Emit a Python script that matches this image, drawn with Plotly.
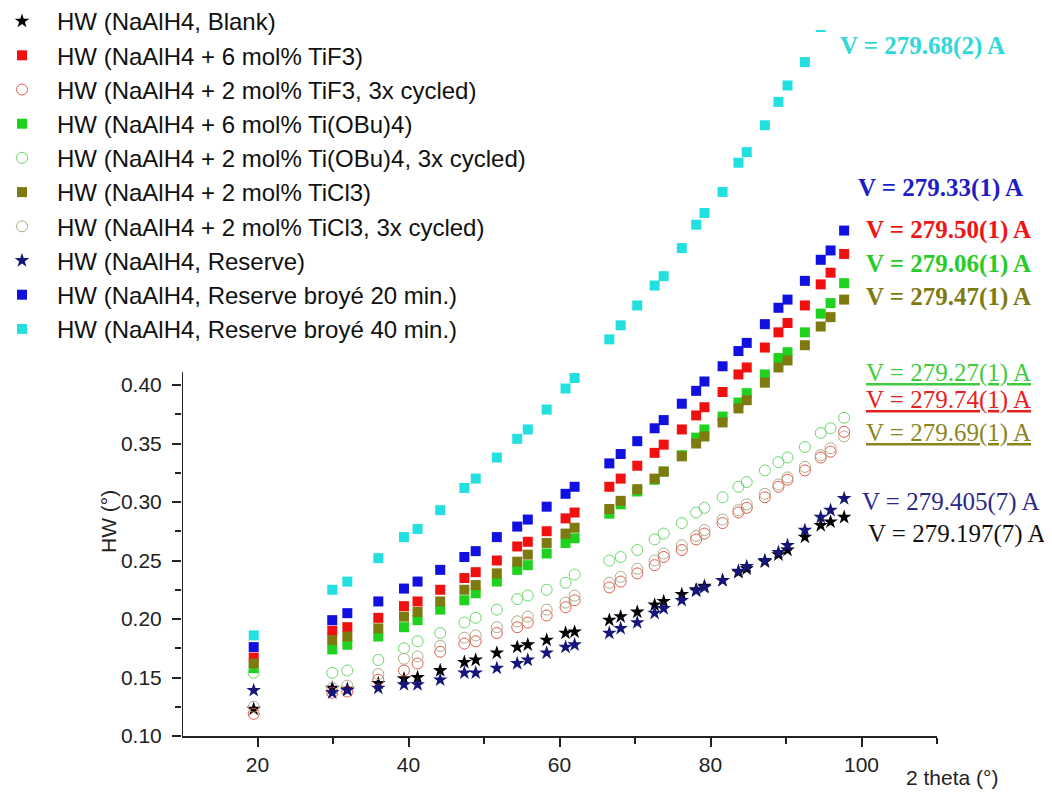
import plotly.graph_objects as go

# 2-theta positions of the reflections (deg)
two_theta = [19.5, 29.9, 31.9, 36.0, 39.4, 41.2, 44.2, 47.4, 48.9, 51.7, 54.4, 55.8,
             58.3, 60.8, 62.0, 66.6, 68.1, 70.3, 72.6, 73.8, 76.2, 78.1, 79.2, 81.6,
             83.7, 84.8, 87.2, 89.0, 90.2, 92.5, 94.6, 95.9, 97.7]

hw_blank = [0.123, 0.141, 0.140, 0.145, 0.149, 0.150, 0.156, 0.163, 0.165, 0.171, 0.176, 0.178,
            0.182, 0.188, 0.189, 0.199, 0.202, 0.206, 0.212, 0.215, 0.221, 0.225, 0.228, 0.233,
            0.240, 0.243, 0.249, 0.255, 0.259, 0.270, 0.280, 0.283, 0.287]
hw_tif3_6 = [0.167, 0.190, 0.193, 0.201, 0.211, 0.215, 0.225, 0.235, 0.240, 0.250, 0.262, 0.266,
             0.275, 0.286, 0.291, 0.313, 0.320, 0.331, 0.342, 0.349, 0.362, 0.374, 0.381, 0.394,
             0.409, 0.415, 0.432, 0.445, 0.453, 0.468, 0.486, 0.496, 0.512]
hw_tif3_2c = [0.119, 0.137, 0.138, 0.148, 0.156, 0.162, 0.172, 0.179, 0.181, 0.188, 0.193, 0.197,
              0.203, 0.210, 0.216, 0.227, 0.232, 0.239, 0.246, 0.253, 0.259, 0.268, 0.273, 0.282,
              0.291, 0.295, 0.304, 0.313, 0.319, 0.327, 0.338, 0.343, 0.360]
hw_tiobu_6 = [0.158, 0.174, 0.178, 0.185, 0.193, 0.199, 0.208, 0.216, 0.222, 0.232, 0.242, 0.246,
              0.256, 0.265, 0.269, 0.290, 0.298, 0.309, 0.319, 0.326, 0.340, 0.355, 0.362, 0.373,
              0.385, 0.393, 0.409, 0.423, 0.428, 0.445, 0.461, 0.470, 0.487]
hw_tiobu_2c = [0.154, 0.154, 0.156, 0.165, 0.175, 0.181, 0.188, 0.197, 0.201, 0.208, 0.217, 0.220,
               0.225, 0.231, 0.238, 0.250, 0.253, 0.259, 0.268, 0.273, 0.282, 0.291, 0.295, 0.304,
               0.313, 0.317, 0.327, 0.334, 0.338, 0.347, 0.359, 0.363, 0.372]
hw_ticl3_2 = [0.162, 0.182, 0.185, 0.192, 0.202, 0.206, 0.215, 0.225, 0.229, 0.239, 0.249, 0.255,
              0.265, 0.273, 0.278, 0.294, 0.301, 0.311, 0.320, 0.326, 0.339, 0.350, 0.356, 0.368,
              0.380, 0.387, 0.402, 0.415, 0.421, 0.434, 0.450, 0.458, 0.473]
hw_ticl3_2c = [0.125, 0.141, 0.143, 0.153, 0.166, 0.168, 0.177, 0.184, 0.186, 0.193, 0.198, 0.202,
               0.208, 0.214, 0.220, 0.231, 0.236, 0.243, 0.250, 0.256, 0.263, 0.271, 0.276, 0.285,
               0.293, 0.298, 0.307, 0.315, 0.321, 0.330, 0.340, 0.346, 0.356]
hw_reserve = [0.139, 0.137, 0.139, 0.141, 0.144, 0.144, 0.148, 0.154, 0.154, 0.158, 0.162, 0.165,
              0.171, 0.176, 0.178, 0.188, 0.192, 0.197, 0.205, 0.209, 0.216, 0.224, 0.227, 0.233,
              0.241, 0.245, 0.250, 0.257, 0.263, 0.276, 0.287, 0.293, 0.303]
hw_res_20 = [0.176, 0.199, 0.205, 0.215, 0.226, 0.232, 0.242, 0.253, 0.258, 0.270, 0.279, 0.285,
             0.296, 0.307, 0.313, 0.333, 0.341, 0.352, 0.363, 0.370, 0.384, 0.395, 0.403, 0.416,
             0.429, 0.436, 0.452, 0.466, 0.473, 0.489, 0.507, 0.515, 0.532]
two_theta_40 = two_theta[:31]
hw_res_40 = [0.186, 0.225, 0.232, 0.252, 0.270, 0.277, 0.293, 0.312, 0.320, 0.338, 0.354, 0.362,
             0.379, 0.397, 0.406, 0.439, 0.451, 0.468, 0.485, 0.493, 0.517, 0.537, 0.547, 0.565,
             0.590, 0.599, 0.622, 0.642, 0.656, 0.676, 0.706]

series = [
    ("HW (NaAlH4, Blank)", two_theta, hw_blank, "star", "#000000", 11),
    ("HW (NaAlH4 + 6 mol% TiF3)", two_theta, hw_tif3_6, "square", "#f01010", 10),
    ("HW (NaAlH4 + 2 mol% TiF3, 3x cycled)", two_theta, hw_tif3_2c, "circle-open", "#e05a4a", 11),
    ("HW (NaAlH4 + 6 mol% Ti(OBu)4)", two_theta, hw_tiobu_6, "square", "#1ed21e", 10),
    ("HW (NaAlH4 + 2 mol% Ti(OBu)4, 3x cycled)", two_theta, hw_tiobu_2c, "circle-open", "#6ad86a", 11),
    ("HW (NaAlH4 + 2 mol% TiCl3)", two_theta, hw_ticl3_2, "square", "#7f7a10", 10),
    ("HW (NaAlH4 + 2 mol% TiCl3, 3x cycled)", two_theta, hw_ticl3_2c, "circle-open", "#b0aa88", 11),
    ("HW (NaAlH4, Reserve)", two_theta, hw_reserve, "star", "#15157a", 11),
    ("HW (NaAlH4, Reserve broyé 20 min.)", two_theta, hw_res_20, "square", "#1010e0", 10),
    ("HW (NaAlH4, Reserve broyé 40 min.)", two_theta_40, hw_res_40, "square", "#22e0e0", 10),
]

# layout geometry: the page body has an 8 px margin, so the figure is placed at (8, 8)
OFF = 8
W, H = 1052 - OFF, 796 - OFF
L, R, T, B = 182 - OFF, 115, 30 - OFF, 60
PW, PH = W - L - R, H - T - B


def px_x(p):
    """page pixel x -> paper fraction"""
    return (p - OFF - L) / PW


def px_y(p):
    """page pixel y -> paper fraction"""
    return (H - B - (p - OFF)) / PH


fig = go.Figure()
for name, xs, ys, sym, col, size in series:
    mk = dict(symbol=sym, size=size, color=col)
    if sym.endswith("open"):
        mk["line"] = dict(width=1, color=col)
    else:
        mk["line"] = dict(width=0)
    fig.add_trace(go.Scatter(x=xs, y=ys, mode="markers", name=name, marker=mk))

# volume labels
labels = [
    ("<b>V = 279.68(2) A</b>", 838, 46, "#30d8d8"),
    ("<b>V = 279.33(1) A</b>", 856, 188, "#1c1cc8"),
    ("<b>V = 279.50(1) A</b>", 864, 230, "#ee1515"),
    ("<b>V = 279.06(1) A</b>", 864, 264, "#28cc28"),
    ("<b>V = 279.47(1) A</b>", 864, 297, "#7f7a10"),
    ("<u>V = 279.27(1) A</u>", 864, 373, "#40cc40"),
    ("<u>V = 279.74(1) A</u>", 864, 400, "#e82020"),
    ("<u>V = 279.69(1) A</u>", 864, 433, "#8a861c"),
    ("V = 279.405(7) A", 860, 502, "#2a2a86"),
    ("V = 279.197(7) A", 866, 534, "#111111"),
]
for txt, xp, yp, col in labels:
    fig.add_annotation(text=txt, xref="paper", yref="paper", x=px_x(xp), y=px_y(yp),
                       xanchor="left", yanchor="middle", showarrow=False,
                       font=dict(family="Liberation Serif", size=25, color=col))

# axis titles
fig.add_annotation(text="2 theta (°)", xref="paper", yref="paper", x=px_x(904), y=px_y(777),
                   xanchor="left", yanchor="middle", showarrow=False,
                   font=dict(family="Liberation Sans", size=21, color="#222"))
fig.add_annotation(text="HW (°)", xref="paper", yref="paper", x=px_x(108), y=px_y(522),
                   xanchor="center", yanchor="middle", textangle=-90, showarrow=False,
                   font=dict(family="Liberation Sans", size=21, color="#222"))

# truncated y-axis line (only up to 0.41)
fig.add_shape(type="line", xref="x", yref="y", x0=10, x1=10, y0=0.10, y1=0.411,
              line=dict(color="#222", width=2), layer="above")

yt = [0.10, 0.15, 0.20, 0.25, 0.30, 0.35, 0.40]
ymin = [0.125, 0.175, 0.225, 0.275, 0.325, 0.375]

fig.update_layout(
    width=W, height=H,
    margin=dict(l=L, r=R, t=T, b=B, autoexpand=False),
    paper_bgcolor="white", plot_bgcolor="white",
    font=dict(family="Liberation Sans", color="#222"),
    showlegend=True,
    legend=dict(x=px_x(-13), y=px_y(-1), xanchor="left", yanchor="top",
                bgcolor="rgba(0,0,0,0)", itemwidth=60,
                font=dict(family="Liberation Sans", size=24, color="#111"),
                tracegroupgap=0),
    xaxis=dict(range=[10, 110], tickvals=[20, 40, 60, 80, 100], ticks="outside",
               ticklen=9, tickwidth=2, tickcolor="#222", showline=True, linewidth=2,
               linecolor="#222", showgrid=False, zeroline=False,
               tickfont=dict(size=21, color="#222"),
               minor=dict(tickmode="array", tickvals=[30, 50, 70, 90, 110], ticklen=6,
                          tickwidth=2, tickcolor="#222", ticks="outside")),
    yaxis=dict(range=[0.10, 0.10 + PH / 1170.0], tickvals=yt,
               ticktext=["%.2f" % v for v in yt], ticks="outside", ticklen=9,
               tickwidth=2, tickcolor="#222", showline=False, showgrid=False,
               zeroline=False, tickfont=dict(size=21, color="#222"),
               ticklabelstandoff=6,
               minor=dict(tickmode="array", tickvals=ymin, ticklen=6, tickwidth=2,
                          tickcolor="#222", ticks="outside")),
)

fig.write_html("out.html")
